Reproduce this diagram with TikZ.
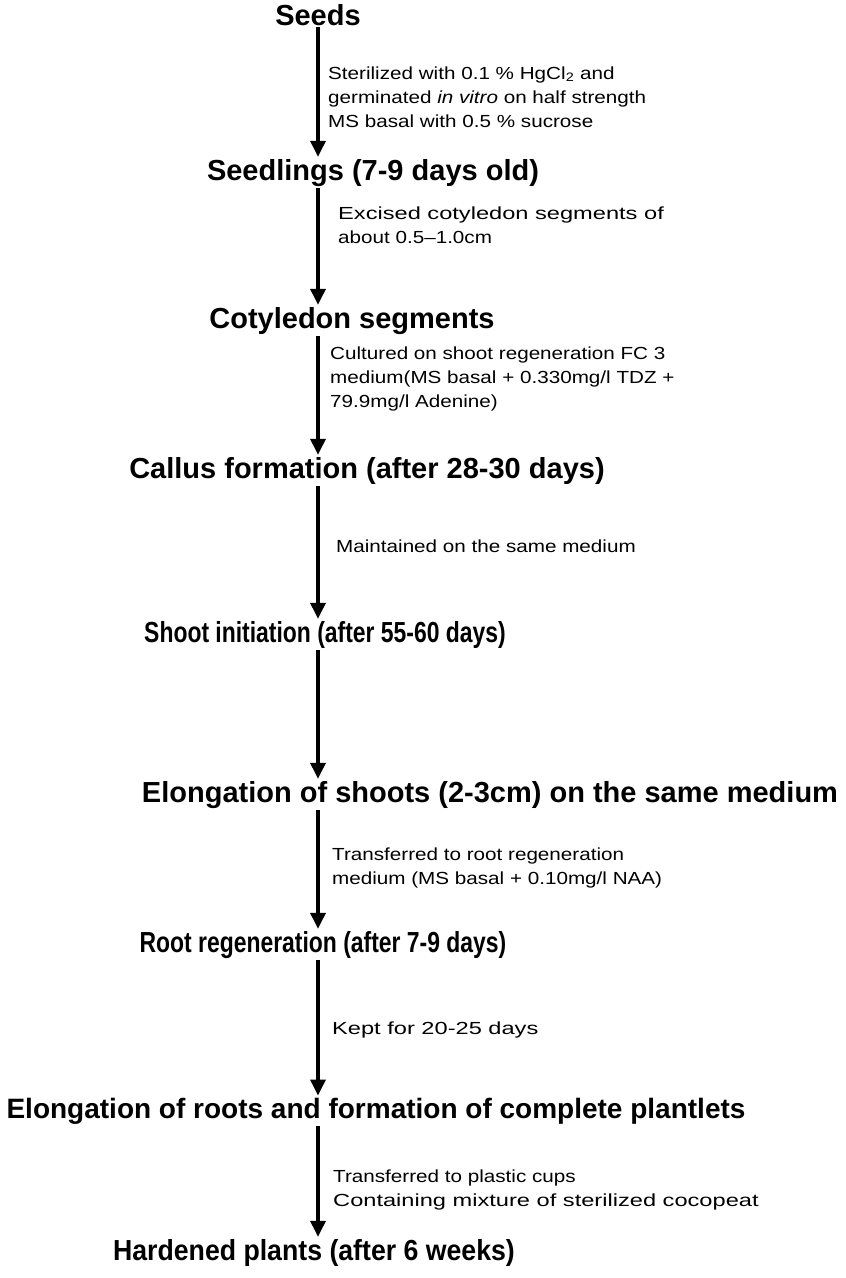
\documentclass[tikz,border=0pt]{standalone}
\usepackage{fontspec}
\setmainfont{Liberation Sans}
\newfontfamily\notefont[Ligatures=TeX,FakeStretch=1.18]{Liberation Sans}
\newfontfamily\widefont[Ligatures=TeX,FakeStretch=1.35]{Liberation Sans}
\newfontfamily\narrowfont[Ligatures=TeX,FakeStretch=0.79]{Liberation Sans}
\newfontfamily\hardfont[Ligatures=TeX,FakeStretch=0.92]{Liberation Sans}
\usetikzlibrary{arrows.meta,positioning}
\tikzset{
  stage/.style={font=\fontsize{29}{33}\selectfont\bfseries, inner sep=2pt, anchor=base},
  note/.style={font=\notefont\fontsize{17.5}{24}\selectfont, align=left, anchor=west, inner sep=0pt},
  flow/.style={line width=3.5pt, -{Triangle[width=15pt,length=16pt]}}
}

\begin{document}
\begin{tikzpicture}[x=1pt,y=-1pt]
      \useasboundingbox (0,0) rectangle (846,1278);
      \coordinate (spine) at (318,0);
      \node[stage] (seeds) at (318,25) {Seeds};
      \node[stage] (seedl) at (373,180) {Seedlings (7-9 days old)};
      \node[stage] (cotyl) at (352,328) {Cotyledon segments};
      \node[stage] (callus) at (367,478) {Callus formation (after 28-30 days)};
      \node[stage] (shoot) at (325,642) {\narrowfont Shoot initiation (after 55-60 days)};
      \node[stage] (elong) at (490,802) {Elongation of shoots (2-3cm) on the same medium};
      \node[stage] (root) at (323,952) {\narrowfont Root regeneration (after 7-9 days)};
      \node[stage, font=\fontsize{28}{32}\selectfont\bfseries] (plant) at (376,1118) {Elongation of roots and formation of complete plantlets};
      \node[stage] (hard) at (314,1260) {\hardfont Hardened plants (after 6 weeks)};
      \draw[flow] (seeds.south -| spine) -- (seedl.north -| spine);
      \draw[flow] (seedl.south -| spine) -- (cotyl.north -| spine);
      \draw[flow] (cotyl.south -| spine) -- (callus.north -| spine);
      \draw[flow] (callus.south -| spine) -- (shoot.north -| spine);
      \draw[flow] (shoot.south -| spine) -- (elong.north -| spine);
      \draw[flow] (elong.south -| spine) -- (root.north -| spine);
      \draw[flow] (root.south -| spine) -- (plant.north -| spine);
      \draw[flow] (plant.south -| spine) -- (hard.north -| spine);
      \node[note] (n1) at (328,97) {Sterilized with 0.1 \% HgCl\textsubscript{2} and\\germinated \textit{in vitro} on half strength\\MS basal with 0.5 \% sucrose};
      \node[note] (n2) at (338,225) {\widefont Excised cotyledon segments of\\about 0.5--1.0cm};
      \node[note] (n3) at (330,379) {Cultured on shoot regeneration FC 3\\medium(MS basal + 0.330mg/l TDZ +\\79.9mg/l Adenine)};
      \node[note] (n4) at (336,546) {Maintained on the same medium};
      \node[note] (n6) at (332,868) {Transferred to root regeneration\\medium (MS basal + 0.10mg/l NAA)};
      \node[note] (n7) at (332,1030) {\widefont Kept for 20-25 days};
      \node[note] (n8) at (333,1190) {Transferred to plastic cups\\{\widefont Containing mixture of sterilized cocopeat}};
    \end{tikzpicture}
\end{document}
